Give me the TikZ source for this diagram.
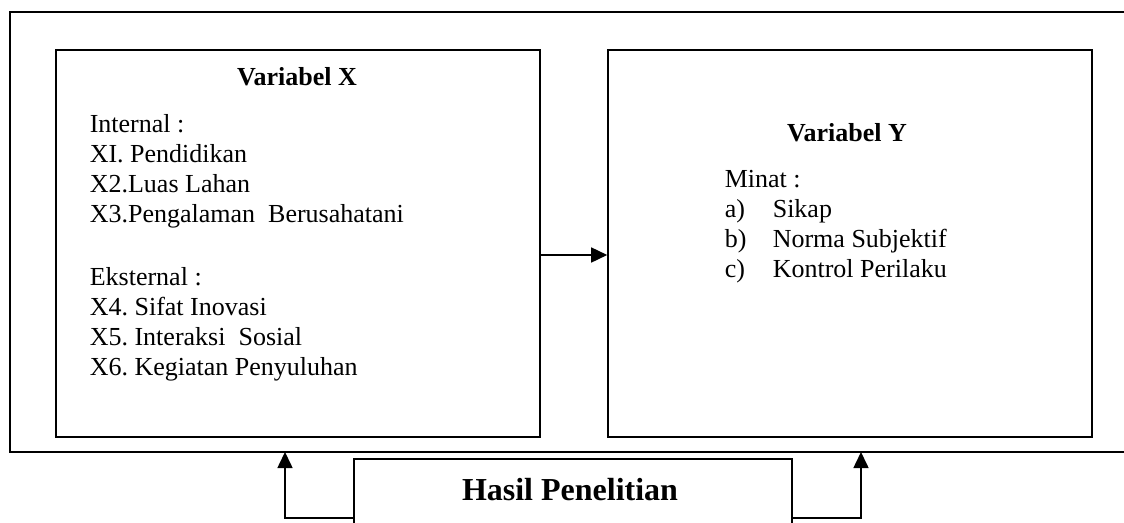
\documentclass[tikz,border=0pt]{standalone}
\usepackage{fontspec}
\setmainfont{Liberation Serif}
\usetikzlibrary{arrows.meta}
\frenchspacing
\begin{document}
\begin{tikzpicture}[x=1pt,y=-1pt,line width=1.6pt,
  box/.style={draw,line width=1.6pt,inner sep=0pt,minimum width=484pt,minimum height=387pt},
  txt/.style={anchor=base west,inner sep=0pt,font=\fontsize{26}{30}\selectfont},
  ttl/.style={anchor=base,inner sep=0pt,font=\fontsize{26}{30}\selectfont\bfseries},
  arr/.style={-{Triangle[length=16pt,width=15pt]}}]
\useasboundingbox (0,0) rectangle (1124,522);
% outer frame (open at the right)
\coordinate (ftr) at (1124,12);
\coordinate (fbr) at (1124,452);
\coordinate (fl) at (10,452);
\draw (ftr) -| (fl) -- (fbr);
% boxes
\node[box] (bx) at (298,243.5) {};
\node[box] (by) at (850,243.5) {};
% left text
\node[ttl] (tx) at (297,85) {Variabel X};
\node[txt] (l1) at (89,132) {Internal :};
\node[txt] (l2) at (89,162) {XI. Pendidikan};
\node[txt] (l3) at (89,192) {X2.Luas Lahan};
\node[txt] (l4) at (89,222) {X3.Pengalaman\ \ Berusahatani};
\node[txt] (l5) at (89,285) {Eksternal :};
\node[txt] (l6) at (89,315) {X4. Sifat Inovasi};
\node[txt] (l7) at (89,345) {X5. Interaksi\ \ Sosial};
\node[txt] (l8) at (89,375) {X6. Kegiatan Penyuluhan};
% right text
\node[ttl] (ty) at (847,141) {Variabel Y};
\node[txt] (r1) at (724,187) {Minat :};
\node[txt] (ra) at (724,217) {a)};
\node[txt] (rat) at (772,217) {Sikap};
\node[txt] (rb) at (724,247) {b)};
\node[txt] (rbt) at (772,247) {Norma Subjektif};
\node[txt] (rc) at (724,277) {c)};
\node[txt] (rct) at (772,277) {Kontrol Perilaku};
% middle arrow
\coordinate (mid) at (574,255);
\draw[arr] (bx.east |- mid) -- (by.west |- mid);
% Hasil Penelitian box (open at the bottom, beyond the page)
\node[inner sep=0pt,minimum width=436pt,minimum height=116pt] (hasil) at (573,518) {};
\draw (hasil.south west) -- (hasil.north west) -- (hasil.north east) -- (hasil.south east);
\node[anchor=base,inner sep=0pt,font=\fontsize{32}{36}\selectfont\bfseries] (htxt) at (570,500) {Hasil Penelitian};
% feedback arrows
\coordinate (al) at (285,452);
\coordinate (ar) at (861,452);
\draw[arr] (hasil.west) -| (al);
\draw[arr] (hasil.east) -| (ar);
\end{tikzpicture}
\end{document}
